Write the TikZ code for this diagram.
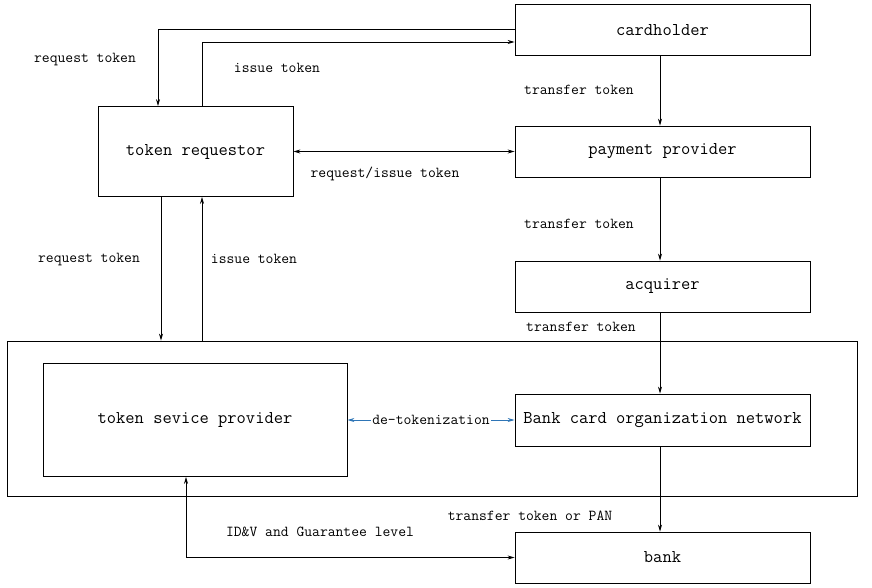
\documentclass[tikz,border=0pt]{standalone}
\usetikzlibrary{positioning,calc,arrows.meta}

\begin{document}
\begin{tikzpicture}[x=1pt,y=-1pt,
    box/.style={draw, line width=0.8pt, minimum width=295, minimum height=51, inner sep=0pt, font=\ttfamily\fontsize{18}{20}\selectfont},
    lbl/.style={font=\ttfamily\fontsize{15.2}{17}\selectfont, inner sep=1pt},
    arr/.style={line width=0.8pt, -{Stealth[length=7pt,width=4pt]}},
    dbl/.style={line width=0.8pt, {Stealth[length=7pt,width=4pt]}-{Stealth[length=7pt,width=4pt]}}]
  \useasboundingbox (0,0) rectangle (872,588);
  % boxes
  \node[box] (card) at (662.5,30) {cardholder};
  \node[box] (pay) at (662.5,151.5) {payment provider};
  \node[box] (acq) at (662.5,286.5) {acquirer};
  \node[box, minimum width=195, minimum height=90] (req) at (195.5,151.5) {token requestor};
  \node[draw, line width=0.8pt, minimum width=850, minimum height=155, inner sep=0pt] (outer) at (432,418.5) {};
  \node[box, minimum width=304, minimum height=113] (tsp) at (195,420) {token sevice provider};
  \node[box, minimum height=52] (net) at (662.5,420) {Bank card organization network};
  \node[box] (bank) at (662.5,557.5) {bank};

  % connectors
  \draw[arr] ([yshift=1pt]card.west) -| ([xshift=-37.5pt]req.north);
  \draw[arr] ([xshift=6.5pt]req.north) |- ([yshift=-12pt]card.west);
  \draw[dbl] (req.east) -- (pay.west);
  \draw[arr] ([xshift=-2.5pt]card.south) -- ([xshift=-2.5pt]pay.north);
  \draw[arr] ([xshift=-2.5pt]pay.south) -- ([xshift=-2.5pt]acq.north);
  \draw[arr] ([xshift=-2.5pt]acq.south) -- ([xshift=-2.5pt]net.north);
  \draw[arr] ([xshift=-2.5pt]net.south) -- ([xshift=-2.5pt]bank.north);
  \draw[arr] ([xshift=-34.5pt]req.south) -- ([xshift=-34.5pt]req.south |- outer.north);
  \draw[arr] ([xshift=6.5pt]req.south |- outer.north) -- ([xshift=6.5pt]req.south);
  \draw[dbl, draw={rgb,255:red,46;green,117;blue,182}] (tsp.east) -- node[lbl, fill=white, text=black] (detok) {de-tokenization} (net.west);
  \draw[dbl] ([xshift=-9pt]tsp.south) |- (bank.west);

  % labels
  \node[lbl] (l1) at (85,60) {request token};
  \node[lbl] (l2) at (277,68) {issue token};
  \node[lbl] (l3) at (579,90) {transfer token};
  \node[lbl] (l4) at (385,174) {request/issue token};
  \node[lbl] (l5) at (579,224) {transfer token};
  \node[lbl] (l6) at (89,260) {request token};
  \node[lbl] (l7) at (254,259) {issue token};
  \node[lbl] (l8) at (581,327) {transfer token};
  \node[lbl] (l9) at (530,516) {transfer token or PAN};
  \node[lbl] (l10) at (320,532) {ID\&V and Guarantee level};
\end{tikzpicture}
\end{document}
